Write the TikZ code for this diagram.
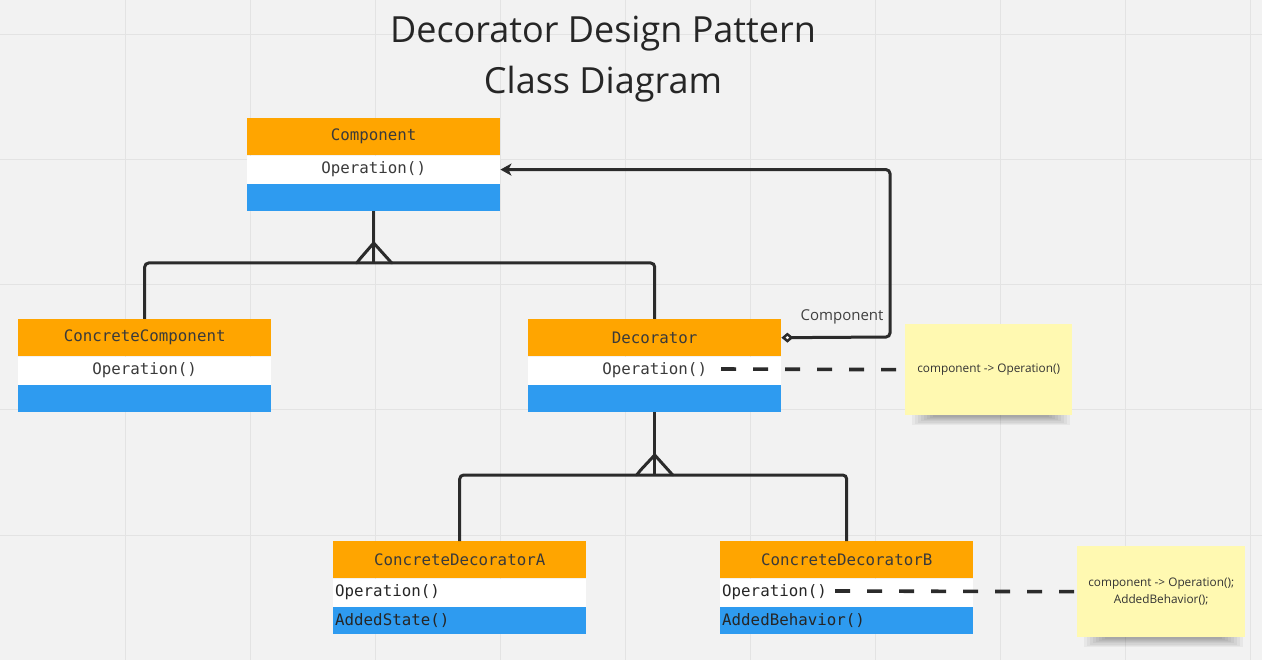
\documentclass[tikz,border=0pt]{standalone}
\usepackage{fontspec}
\setmainfont{Open Sans}
\newfontfamily\monofont{DejaVu Sans Mono}
\usetikzlibrary{arrows.meta,positioning,calc}
\definecolor{bg}{HTML}{F2F2F2}
\definecolor{gridc}{HTML}{E3E3E3}
\definecolor{hdr}{HTML}{FFA500}
\definecolor{ext}{HTML}{2E9BF0}
\definecolor{ink}{HTML}{2B2B2B}
\definecolor{txt}{HTML}{3A3A3A}
\definecolor{notec}{HTML}{FFF9B1}
\begin{document}
\begin{tikzpicture}[x=1pt,y=-1pt,
  cell/.style={rectangle,inner sep=0pt,minimum width=253pt,anchor=north west,
    font=\monofont\fontsize{15.8}{18}\selectfont,text=txt},
  hdrcell/.style={cell,fill=hdr,minimum height=37pt},
  opcell/.style={cell,fill=white,minimum height=28pt},
  extcell/.style={cell,fill=ext,minimum height=27pt},
  leftcell/.style={text width=249pt,inner xsep=2pt,align=left,text=black!85},
  conn/.style={draw=ink,line width=3pt,rounded corners=4pt},
  inhtip/.style={draw=ink,line width=3pt,line join=round,line cap=round},
  dashline/.style={draw=ink,line width=3.6pt,dash pattern=on 15pt off 17pt},
  notebox/.style={rectangle,fill=notec,inner sep=0pt,anchor=north west,
    font=\fontsize{11.8}{17}\selectfont,text=black!80,align=center},
]
\useasboundingbox (0,0) rectangle (1262,660);
\fill[bg] (0,0) rectangle (1262,660);
% grid
\foreach \gx in {125.7,250.7,375.7,500.7,625.7,750.7,875.7,1000.7,1125.7,1250.7}
  \draw[gridc,line width=1pt] (\gx,0) -- (\gx,660);
\foreach \gy in {35,160,285,410,535}
  \draw[gridc,line width=1pt] (0,\gy) -- (1262,\gy);
% title
\node[font=\fontsize{36}{51}\selectfont,text=black!85,align=center] (title) at (603,59)
  {Decorator Design Pattern\\Class Diagram};
% Component
\node[hdrcell] (comp) at (247,118) {Component};
\node[opcell,below=0pt of comp.south west,anchor=north west] (comp-op) {Operation()};
\node[extcell,below=0pt of comp-op.south west,anchor=north west] (comp-ex) {};
% ConcreteComponent
\node[hdrcell] (cc) at (18,319) {ConcreteComponent};
\node[opcell,below=0pt of cc.south west,anchor=north west] (cc-op) {Operation()};
\node[extcell,below=0pt of cc-op.south west,anchor=north west] (cc-ex) {};
% Decorator
\node[hdrcell] (dec) at (528,319) {Decorator};
\node[opcell,below=0pt of dec.south west,anchor=north west] (dec-op) {Operation()};
\node[extcell,below=0pt of dec-op.south west,anchor=north west] (dec-ex) {};
% ConcreteDecoratorA
\node[hdrcell] (cda) at (333,541) {ConcreteDecoratorA};
\node[opcell,leftcell,below=0pt of cda.south west,anchor=north west] (cda-op) {Operation()};
\node[extcell,leftcell,below=0pt of cda-op.south west,anchor=north west] (cda-ex) {AddedState()};
% ConcreteDecoratorB
\node[hdrcell] (cdb) at (720,541) {ConcreteDecoratorB};
\node[opcell,leftcell,below=0pt of cdb.south west,anchor=north west] (cdb-op) {Operation()};
\node[extcell,leftcell,below=0pt of cdb-op.south west,anchor=north west] (cdb-ex) {AddedBehavior()};
% notes with soft shadows
\foreach \i in {0,...,7} {
  \fill[black,opacity=0.045] (912+3*\i,406) rectangle (1070-3*\i,425-1.2*\i);
  \fill[black,opacity=0.045] (1084+3*\i,628) rectangle (1243-3*\i,647-1.2*\i);
}
\node[notebox,minimum width=167pt,minimum height=91pt] (note1) at (905,324)
  {component -> Operation()};
\node[notebox,minimum width=168pt,minimum height=91pt] (note2) at (1077,546)
  {component -> Operation();\\AddedBehavior();};
% inheritance 1
\coordinate (bar1) at (373,263);
\draw[conn] (cc.north) |- (bar1) -| (dec.north);
\draw[conn] (comp-ex.south) -- (comp-ex.south |- bar1);
\draw[inhtip] ($(comp-ex.south |- bar1)+(-17,0)$) -- ++(4,-5) -- ($(comp-ex.south |- bar1)+(0,-20)$) -- ($(comp-ex.south |- bar1)+(18,0)$);
% inheritance 2
\coordinate (bar2) at (654,475);
\draw[conn] (cda.north) |- (bar2) -| (cdb.north);
\draw[conn] (dec-ex.south) -- (dec-ex.south |- bar2);
\draw[inhtip] ($(dec-ex.south |- bar2)+(-18,0)$) -- ++(4,-5) -- ($(dec-ex.south |- bar2)+(0,-20)$) -- ($(dec-ex.south |- bar2)+(18,0)$);
% aggregation
\coordinate (aggc) at (890,337);
\draw[conn,{Diamond[open,fill=white,length=12pt,width=10pt,line width=2.5pt]}-{Stealth[length=11pt,width=12pt,inset=3pt]}]
  (dec.east) -- (aggc) |- (comp-op.east);
\node[font=\fontsize{15}{18}\selectfont,text=black!75] (agglabel) at (842,317) {Component};
% note links
\coordinate (d1) at (721,369);
\draw[dashline] (d1) -- (note1.west);
\coordinate (d2) at (835,591);
\draw[dashline] (d2) -- (note2.west);
\end{tikzpicture}
\end{document}
